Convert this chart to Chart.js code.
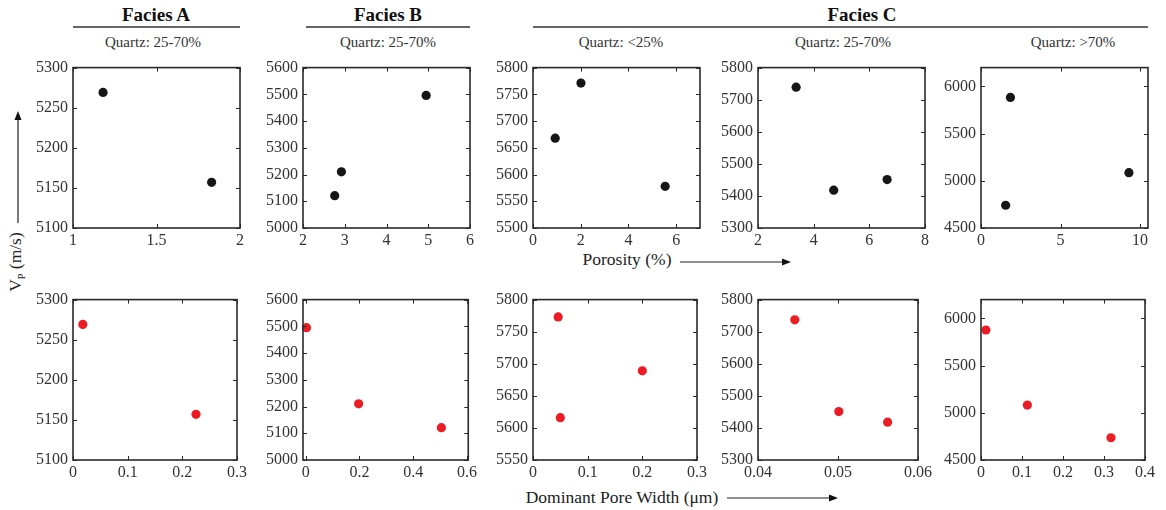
<!DOCTYPE html>
<html>
<head>
<meta charset="utf-8">
<script src="https://cdn.jsdelivr.net/npm/chart.js@4/dist/chart.umd.min.js"></script>
<style>
  body { margin: 0; background: #fff; }
  #wrap { position: relative; width: 1166px; height: 510px; font-family: "Liberation Serif", "Times New Roman", serif; color: #222; }
  canvas { position: absolute; }
  .txt { position: absolute; white-space: nowrap; transform: translate(-50%, -50%); }
  .facies { font-size: 19px; font-weight: bold; color: #111; }
  .quartz { font-size: 15px; color: #333; }
  .axlab { font-size: 17.5px; color: #222; }
  .rule { position: absolute; height: 2px; background: #666; }
  svg { position: absolute; left: 0; top: 0; }
</style>
</head>
<body>
<div id="wrap">
  <div class="txt facies" style="left:156px; top:15px">Facies A</div>
  <div class="txt facies" style="left:388px; top:15px">Facies B</div>
  <div class="txt facies" style="left:862px; top:15px">Facies C</div>
  <div class="rule" style="left:73px; width:167px; top:26px"></div>
  <div class="rule" style="left:306px; width:164px; top:26px"></div>
  <div class="rule" style="left:533px; width:615px; top:26px"></div>
  <div class="txt quartz" style="left:153px; top:42px">Quartz: 25-70%</div>
  <div class="txt quartz" style="left:388px; top:42px">Quartz: 25-70%</div>
  <div class="txt quartz" style="left:621px; top:42px">Quartz: &lt;25%</div>
  <div class="txt quartz" style="left:843px; top:42px">Quartz: 25-70%</div>
  <div class="txt quartz" style="left:1073px; top:42px">Quartz: &gt;70%</div>
  <div class="txt axlab" style="left:627px; top:259px">Porosity (%)</div>
  <div class="txt axlab" style="left:622px; top:497px">Dominant Pore Width (μm)</div>
  <div class="txt axlab" style="left:16px; top:262px; transform: translate(-50%, -50%) rotate(-90deg)">V<sub style="font-size:10px">P</sub> (m/s)</div>
  <svg width="1166" height="510">
    <g stroke="#222" stroke-width="1.2" fill="#111">
      <line x1="18" y1="223" x2="18" y2="118"/>
      <polygon points="18,111 14.5,120 21.5,120" stroke="none"/>
      <line x1="680" y1="262" x2="784" y2="262"/>
      <polygon points="791,262 782,258.5 782,265.5" stroke="none"/>
      <line x1="727" y1="498" x2="831" y2="498"/>
      <polygon points="838,498 829,494.5 829,501.5" stroke="none"/>
    </g>
  </svg>
</div>
<script>
// top row: porosity (%) vs Vp (m/s)
const porA = [1.18, 1.83];
const vpA = [5269, 5157];
const porB = [2.76, 2.92, 4.95];
const vpB = [5121, 5210, 5496];
const porC1 = [0.93, 2.01, 5.54];
const vpC1 = [5668, 5771, 5578];
const porC2 = [3.37, 4.72, 6.64];
const vpC2 = [5739, 5418, 5451];
const porC3 = [1.55, 1.85, 9.3];
const vpC3 = [4741, 5884, 5086];

// bottom row: dominant pore width (um) vs Vp (m/s)
const poreA = [0.018, 0.225];
const vpPoreA = [5269, 5157];
const poreB = [0.003, 0.197, 0.505];
const vpPoreB = [5495, 5210, 5121];
const poreC1 = [0.046, 0.05, 0.2];
const vpPoreC1 = [5773, 5616, 5689];
const poreC2 = [0.0446, 0.0501, 0.0562];
const vpPoreC2 = [5737, 5451, 5418];
const poreC3 = [0.012, 0.113, 0.317];
const vpPoreC3 = [5878, 5082, 4736];

// tick values
const ticksXA = [1, 1.5, 2];
const ticksXB = [2, 3, 4, 5, 6];
const ticksXC1 = [0, 2, 4, 6];
const ticksXC2 = [2, 4, 6, 8];
const ticksXC3 = [0, 5, 10];
const ticksPoreA = [0, 0.1, 0.2, 0.3];
const ticksPoreB = [0, 0.2, 0.4, 0.6];
const ticksPoreC1 = [0, 0.1, 0.2, 0.3];
const ticksPoreC2 = [0.04, 0.05, 0.06];
const ticksPoreC3 = [0, 0.1, 0.2, 0.3, 0.4];
const ticksVpA = [5100, 5150, 5200, 5250, 5300];
const ticksVpB = [5000, 5100, 5200, 5300, 5400, 5500, 5600];
const ticksVpC1 = [5500, 5550, 5600, 5650, 5700, 5750, 5800];
const ticksVpC1b = [5550, 5600, 5650, 5700, 5750, 5800];
const ticksVpC2 = [5300, 5400, 5500, 5600, 5700, 5800];
const ticksVpC3 = [4500, 5000, 5500, 6000];

const BLACK = '#161616';
const RED = '#ec1c24';
const SIZE = 167;
const PADL = 52, PADT = 8, PADR = 10, PADB = 26;
const TICK_FONT = { family: "'Liberation Serif', 'Times New Roman', serif", size: 16 };

Chart.defaults.font.family = TICK_FONT.family;
Chart.defaults.font.size = 16;
Chart.defaults.color = '#333';

// frame box with inward tick marks on all four sides
const frameTicks = {
  id: 'frameTicks',
  afterDraw(chart) {
    const { ctx, chartArea: a, scales: { x, y } } = chart;
    ctx.save();
    ctx.strokeStyle = '#2a2a2a';
    ctx.lineWidth = 1;
    ctx.beginPath();
    x.ticks.forEach(t => {
      const px = Math.round(x.getPixelForValue(t.value)) + 0.5;
      ctx.moveTo(px, a.bottom); ctx.lineTo(px, a.bottom - 4);
      ctx.moveTo(px, a.top); ctx.lineTo(px, a.top + 4);
    });
    y.ticks.forEach(t => {
      const py = Math.round(y.getPixelForValue(t.value)) + 0.5;
      ctx.moveTo(a.left, py); ctx.lineTo(a.left + 4, py);
      ctx.moveTo(a.right, py); ctx.lineTo(a.right - 4, py);
    });
    ctx.stroke();
    ctx.lineWidth = 1.6;
    ctx.strokeRect(a.left, a.top, a.right - a.left, a.bottom - a.top);
    ctx.restore();
  }
};

function fmt(v) {
  return String(Number(v.toFixed(4)));
}

function makePanel(left, top, xs, ys, color, xMin, xMax, xTicks, yMin, yMax, yTicks) {
  const canvas = document.createElement('canvas');
  canvas.width = PADL + SIZE + PADR;
  canvas.height = PADT + SIZE + PADB;
  canvas.style.left = (left - PADL) + 'px';
  canvas.style.top = (top - PADT) + 'px';
  document.getElementById('wrap').appendChild(canvas);

  new Chart(canvas, {
    type: 'scatter',
    data: {
      datasets: [{
        data: xs.map((v, i) => ({ x: v, y: ys[i] })),
        backgroundColor: color,
        borderWidth: 0,
        pointRadius: 4.6,
        clip: false
      }]
    },
    options: {
      responsive: false,
      animation: false,
      layout: { padding: { top: PADT, right: PADR, left: 0, bottom: 0 } },
      plugins: { legend: { display: false }, tooltip: { enabled: false } },
      scales: {
        x: {
          type: 'linear', min: xMin, max: xMax,
          afterBuildTicks: s => { s.ticks = xTicks.map(v => ({ value: v })); },
          afterFit: s => { s.height = PADB; },
          grid: { display: false, drawTicks: false },
          border: { display: false },
          ticks: { padding: 3, maxRotation: 0, font: TICK_FONT, color: '#333', callback: v => fmt(v) }
        },
        y: {
          type: 'linear', min: yMin, max: yMax,
          afterBuildTicks: s => { s.ticks = yTicks.map(v => ({ value: v })); },
          afterFit: s => { s.width = PADL; },
          grid: { display: false, drawTicks: false },
          border: { display: false },
          ticks: { padding: 5, font: TICK_FONT, color: '#333', callback: v => fmt(v) }
        }
      }
    },
    plugins: [frameTicks]
  });
}

const TOP1 = 61, TOP2 = 293;
const L = [73, 303, 533, 758, 981];

makePanel(L[0], TOP1, porA, vpA, BLACK, 1, 2, ticksXA, 5100, 5300, ticksVpA);
makePanel(L[1], TOP1, porB, vpB, BLACK, 2, 6, ticksXB, 5000, 5600, ticksVpB);
makePanel(L[2], TOP1, porC1, vpC1, BLACK, 0, 7, ticksXC1, 5500, 5800, ticksVpC1);
makePanel(L[3], TOP1, porC2, vpC2, BLACK, 2, 8, ticksXC2, 5300, 5800, ticksVpC2);
makePanel(L[4], TOP1, porC3, vpC3, BLACK, 0, 10.5, ticksXC3, 4500, 6200, ticksVpC3);

makePanel(L[0], TOP2, poreA, vpPoreA, RED, 0, 0.3, ticksPoreA, 5100, 5300, ticksVpA);
makePanel(L[1], TOP2, poreB, vpPoreB, RED, -0.01, 0.605, ticksPoreB, 5000, 5600, ticksVpB);
makePanel(L[2], TOP2, poreC1, vpPoreC1, RED, 0, 0.3, ticksPoreC1, 5550, 5800, ticksVpC1b);
makePanel(L[3], TOP2, poreC2, vpPoreC2, RED, 0.04, 0.06, ticksPoreC2, 5300, 5800, ticksVpC2);
makePanel(L[4], TOP2, poreC3, vpPoreC3, RED, 0, 0.4, ticksPoreC3, 4500, 6200, ticksVpC3);
</script>
</body>
</html>
